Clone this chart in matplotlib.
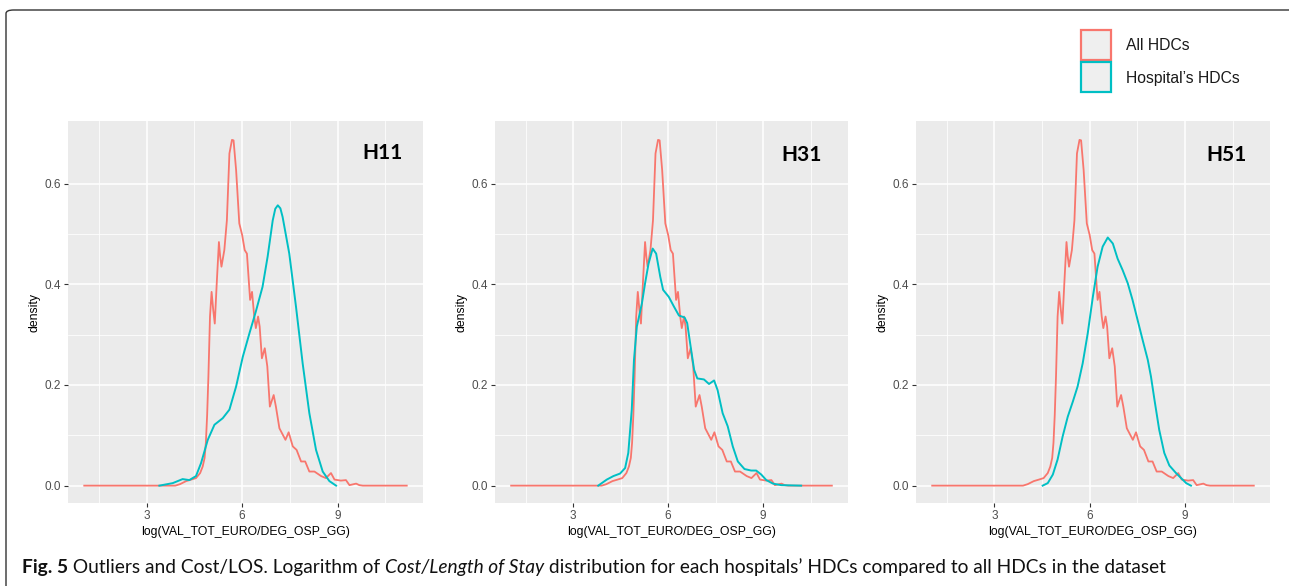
import matplotlib
matplotlib.use('Agg')
import matplotlib.pyplot as plt
from matplotlib.patches import FancyBboxPatch, Rectangle

plt.rcParams['font.family'] = ['Liberation Sans', 'DejaVu Sans']

# ---------------- data ----------------
panel_names = ['H11', 'H31', 'H51']
series_names = ['All HDCs', 'Hospital\u2019s HDCs']
x_ticks = [3, 6, 9]
y_ticks = [0.0, 0.2, 0.4, 0.6]
x_title = 'log(VAL_TOT_EURO/DEG_OSP_GG)'
y_title = 'density'

all_x = [1.04, 3.90, 4.05, 4.24, 4.40, 4.55, 4.68, 4.76, 4.82, 4.86, 4.90, 4.94, 4.99, 5.04, 5.09,
         5.14, 5.20, 5.27, 5.31, 5.35, 5.44, 5.52, 5.60, 5.68, 5.73, 5.81, 5.91, 6.00, 6.08, 6.15,
         6.25, 6.31, 6.38, 6.43, 6.50, 6.55, 6.62, 6.71, 6.79, 6.87, 6.99, 7.06, 7.17, 7.36, 7.46,
         7.59, 7.71, 7.85, 7.98, 8.11, 8.27, 8.48, 8.63, 8.79, 8.90, 9.10, 9.26, 9.37, 9.58, 9.68,
         9.79, 11.17]
all_y = [0, 0, 0.003, 0.009, 0.012, 0.015, 0.025, 0.038, 0.055, 0.085, 0.14, 0.217, 0.336, 0.385, 0.35,
         0.322, 0.40, 0.484, 0.455, 0.435, 0.468, 0.527, 0.66, 0.687, 0.686, 0.627, 0.521, 0.498, 0.468, 0.461,
         0.369, 0.385, 0.336, 0.313, 0.336, 0.316, 0.253, 0.273, 0.237, 0.157, 0.180, 0.157, 0.114, 0.091, 0.106,
         0.078, 0.071, 0.048, 0.048, 0.028, 0.028, 0.019, 0.015, 0.025, 0.012, 0.010, 0.011, 0.001, 0.004, 0.001,
         0, 0]

h11_x = [3.40, 3.82, 4.13, 4.34, 4.55, 4.71, 4.92, 5.13, 5.39, 5.60, 5.81, 6.02, 6.23, 6.43, 6.64,
         6.80, 6.96, 7.04, 7.12, 7.20, 7.27, 7.48, 7.69, 7.90, 8.11, 8.32, 8.53, 8.74, 8.95]
h11_y = [0, 0.005, 0.013, 0.011, 0.019, 0.045, 0.091, 0.121, 0.134, 0.151, 0.197, 0.256, 0.303, 0.346, 0.395,
         0.455, 0.527, 0.550, 0.557, 0.551, 0.534, 0.461, 0.356, 0.243, 0.144, 0.071, 0.028, 0.009, 0]

h31_x = [3.79, 4.06, 4.27, 4.48, 4.64, 4.74, 4.85, 4.92, 5.01, 5.17, 5.27, 5.38, 5.51, 5.62, 5.75,
         5.84, 6.02, 6.18, 6.34, 6.52, 6.60, 6.71, 6.82, 6.92, 7.13, 7.29, 7.45, 7.56, 7.72, 7.88,
         8.04, 8.20, 8.41, 8.62, 8.78, 8.94, 9.10, 9.31, 9.57, 10.2]
h31_y = [0, 0.012, 0.019, 0.024, 0.035, 0.065, 0.151, 0.25, 0.316, 0.362, 0.402, 0.441, 0.471, 0.461, 0.415,
         0.389, 0.375, 0.356, 0.338, 0.334, 0.323, 0.276, 0.230, 0.213, 0.211, 0.202, 0.209, 0.190, 0.144, 0.118,
         0.078, 0.048, 0.033, 0.030, 0.030, 0.022, 0.011, 0.004, 0.001, 0]

h51_x = [4.52, 4.68, 4.84, 4.99, 5.15, 5.31, 5.47, 5.62, 5.78, 5.94, 6.10, 6.25, 6.41, 6.57, 6.73,
         6.88, 7.04, 7.20, 7.35, 7.51, 7.67, 7.83, 7.93, 8.04, 8.19, 8.35, 8.51, 8.72, 8.88, 9.04, 9.19]
h51_y = [0, 0.005, 0.022, 0.052, 0.098, 0.137, 0.167, 0.197, 0.243, 0.303, 0.375, 0.435, 0.475, 0.493, 0.481,
         0.451, 0.428, 0.402, 0.369, 0.329, 0.289, 0.250, 0.217, 0.171, 0.111, 0.065, 0.040, 0.025, 0.015, 0.005, 0]

hosp_x = [h11_x, h31_x, h51_x]
hosp_y = [h11_y, h31_y, h51_y]

caption_parts = [('Fig. 5', 'normal', 'bold'),
                 (' Outliers and Cost/LOS. Logarithm of ', 'normal', 'normal'),
                 ('Cost/Length of Stay', 'italic', 'normal'),
                 (' distribution for each hospitals\u2019 HDCs compared to all HDCs in the dataset', 'normal', 'normal')]

# ---------------- style ----------------
W, H = 1289, 586
RED = '#F8766D'
CYAN = '#00BFC4'
PANEL_BG = '#EBEBEB'

fig = plt.figure(figsize=(W / 100, H / 100), dpi=100)
fig.patch.set_facecolor('white')

def fx(px):
    return px / W

def fy(py):
    return 1 - py / H

# frame (top + left, rounded corner)
frame = FancyBboxPatch((fx(6), fy(700)), fx(1400), (700 - 10) / H,
                       boxstyle='round,pad=0,rounding_size=0.006',
                       transform=fig.transFigure, facecolor='none',
                       edgecolor='#333333', linewidth=1.0)
fig.patches.append(frame)

panels_px = [(68, 423), (495, 848), (916, 1270)]
top_px, bot_px = 121, 503
label_px = [(383, 153), (802, 155), (1226, 155)]

for i, name in enumerate(panel_names):
    l, r = panels_px[i]
    ax = fig.add_axes([fx(l), fy(bot_px), (r - l) / W, (bot_px - top_px) / H])
    ax.set_facecolor(PANEL_BG)
    for s in ax.spines.values():
        s.set_visible(False)
    ax.set_xlim(0.53, 11.68)
    ax.set_ylim(-0.0345, 0.7245)
    ax.set_xticks(x_ticks)
    ax.set_xticklabels([str(v) for v in x_ticks])
    ax.set_yticks(y_ticks)
    ax.set_yticklabels(['%.1f' % v for v in y_ticks])
    ax.set_xticks([1.5, 4.5, 7.5, 10.5], minor=True)
    ax.set_yticks([0.1, 0.3, 0.5], minor=True)
    ax.grid(which='major', color='white', linewidth=1.1)
    ax.grid(which='minor', color='white', linewidth=0.55)
    ax.set_axisbelow(True)
    ax.tick_params(which='major', length=3, width=0.8, color='#333333',
                   labelcolor='#4D4D4D', labelsize=8.5, pad=2)
    ax.tick_params(which='minor', length=0)
    ax.set_xlabel(x_title, fontsize=8.8, color='black', labelpad=3)
    ax.set_ylabel(y_title, fontsize=8.8, color='black', labelpad=3)

    ax.plot(all_x, all_y, color=RED, linewidth=1.3, solid_joinstyle='round')
    ax.plot(hosp_x[i], hosp_y[i], color=CYAN, linewidth=1.4, solid_joinstyle='round')

    lx, ly = label_px[i]
    fig.text(fx(lx), fy(ly), name, family=['Lato', 'DejaVu Sans'], fontweight='bold',
             fontsize=15, ha='center', va='center', color='black')

# legend
key_colors = [RED, CYAN]
key_tops = [30, 62]
for name, col, kt in zip(series_names, key_colors, key_tops):
    fig.patches.append(Rectangle((fx(1081), fy(kt + 30)), 30 / W, 30 / H,
                                 transform=fig.transFigure, facecolor='#EFEFEF',
                                 edgecolor=col, linewidth=1.6))
    fig.text(fx(1126), fy(kt + 16), name, fontsize=11.3, ha='left', va='center', color='#1A1A1A')

# caption
fig.canvas.draw()
rend = fig.canvas.get_renderer()
fs0 = 13
tmp_w = 0
tmps = []
for txt, style, weight in caption_parts:
    t = fig.text(0, 0, txt, fontsize=fs0, fontstyle=style, fontweight=weight,
                 family=['Lato', 'DejaVu Sans'])
    tmp_w += t.get_window_extent(renderer=rend).width
    tmps.append(t)
for t in tmps:
    t.remove()
fs = fs0 * 1148 / tmp_w
xpos = 22
for txt, style, weight in caption_parts:
    t = fig.text(fx(xpos), fy(567), txt, fontsize=fs, fontstyle=style, fontweight=weight,
                 family=['Lato', 'DejaVu Sans'], ha='left', va='center', color='#111111')
    xpos += t.get_window_extent(renderer=rend).width

fig.savefig('out.png', dpi=100, facecolor='white')
